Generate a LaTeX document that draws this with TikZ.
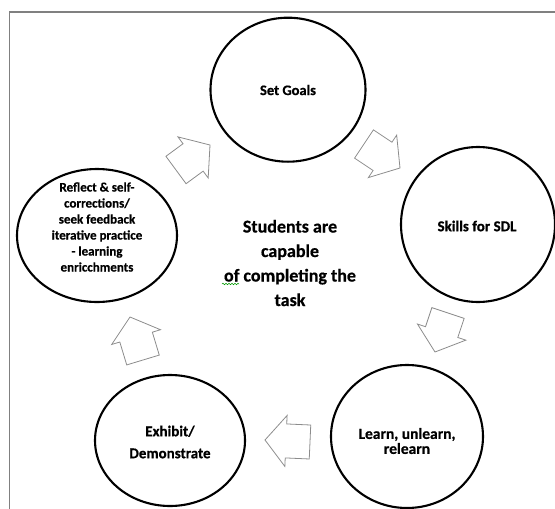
\documentclass[tikz,border=0pt]{standalone}
\usepackage{fontspec}
\setmainfont{Carlito}[BoldFeatures={FakeBold=0.6}]
\usetikzlibrary{calc,decorations.pathmorphing}
\tikzset{
  stage/.style={draw=black,line width=2.1pt},
  lbl/.style={font=\bfseries\fontsize{13}{16}\selectfont,align=center,text=black},
  blk/.style={draw=black!45,line width=0.8pt,line join=miter},
}
\newcommand{\blockarr}[2]{%
  \coordinate (T) at #1; \coordinate (P) at #2;
  \coordinate (N) at ($(P)!21pt!(T)$);
  \draw[blk] ($(T)!17pt!90:(P)$) -- ($(N)!17pt!-90:(T)$) -- ($(N)!25.5pt!-90:(T)$) -- (P)
    -- ($(N)!25.5pt!90:(T)$) -- ($(N)!17pt!90:(T)$) -- ($(T)!17pt!-90:(P)$) -- cycle;}
\begin{document}
\begin{tikzpicture}[x=1pt,y=-1pt]
\useasboundingbox (0,0) rectangle (555,509);
\draw[black!50,line width=1.4pt] (9.5,12) rectangle (570,525);
% stages
\draw[stage] (288,89.7) ellipse [x radius=77.5,y radius=72];
\node[lbl,font=\bfseries\fontsize{14.5}{16}\selectfont] (goals) at (288,90) {Set Goals};
\draw[stage] (478,224.5) ellipse [x radius=77,y radius=77.5];
\node[lbl,font=\bfseries\fontsize{15}{16}\selectfont] (skills) at (477,226) {Skills for SDL};
\draw[stage] (407,436.5) ellipse [x radius=76,y radius=71.5];
\node[lbl,font=\bfseries\fontsize{15.5}{15}\selectfont] (learn) at (407,441) {Learn, unlearn,\\relearn};
\draw[stage] (170,440.5) ellipse [x radius=75,y radius=65.5];
\node[lbl,font=\bfseries\fontsize{15}{22}\selectfont] (exhibit) at (170,442) {Exhibit/\\Demonstrate};
\draw[stage] (97,235.5) ellipse [x radius=80,y radius=66.5];
\node[lbl] (reflect) at (97,227) {Reflect \& self-\\corrections/\\seek feedback\\iterative practice\\- learning\\enricchments};
\node[lbl,font=\bfseries\fontsize{18}{24.5}\selectfont] (center) at (290,263) {Students are\\capable\\of completing the\\task};
\draw[green!60!black,line width=0.5pt,decorate,decoration={snake,amplitude=0.8pt,segment length=3pt}] (222,284) -- (239,284);
% arrows
\blockarr{(176,170)}{(210,145)}
\blockarr{(364,144)}{(400,168)}
\blockarr{(448,313)}{(435,352)}
\blockarr{(310,442)}{(265,440)}
\blockarr{(143,360)}{(130,317)}
\end{tikzpicture}
\end{document}
